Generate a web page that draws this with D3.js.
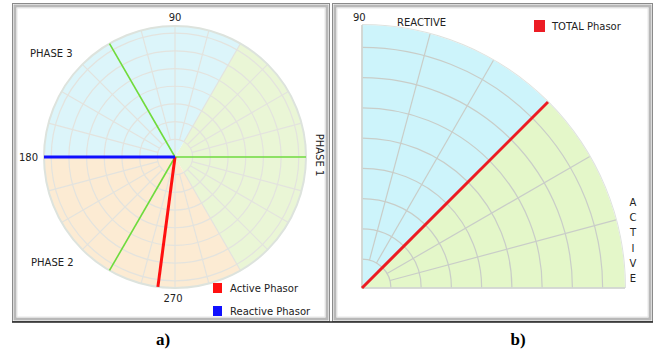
<!DOCTYPE html>
<html lang="en">
<head>
<meta charset="UTF-8">
<title>Phasor diagrams</title>
<script src="https://d3js.org/d3.v7.min.js"></script>
<style>
  body { margin: 0; background: #fff; }
  svg text { font-family: "DejaVu Sans", Verdana, sans-serif; font-size: 10px; fill: #222; }
  .cap { font-family: "Liberation Serif", "Times New Roman", serif; font-size: 17px; font-weight: bold; fill: #000; }
</style>
</head>
<body>
<div id="chart"></div>
<script>
// panel a: three phases, sectors and phasors
const phaseNames = ["PHASE 1", "PHASE 2", "PHASE 3"];
const phaseAngles = [0, 240, 120];            // degrees, counter-clockwise from east
const sectorsA = [
  {from: -60, to: 60, color: "#eaf6d6"},
  {from: 60, to: 180, color: "#dcf5fa"},
  {from: 180, to: 300, color: "#fcebd3"}
];
const phasorsA = [
  {name: "Active Phasor", angle: 262.5, mag: 1, color: "#ff1010"},
  {name: "Reactive Phasor", angle: 180, mag: 1, color: "#1010ff"}
];
const angleLabelsA = [90, 180, 270];
const ringsA = [0.135, 0.27, 0.405, 0.54, 0.675, 0.81, 0.945];

// panel b: total phasor in first quadrant
const sectorsB = [
  {from: 0, to: 45, color: "#e4f7c9"},
  {from: 45, to: 90, color: "#cdf4fb"}
];
const phasorsB = [{name: "TOTAL Phasor", angle: 45, mag: 1, color: "#ec1c24"}];
const ringsB = [0.11, 0.225, 0.34, 0.455, 0.57, 0.685, 0.8, 0.915];
const spokes = d3.range(0, 360, 15);

const W = 663, H = 354;
const svg = d3.select("#chart").append("svg").attr("width", W).attr("height", H);

function frame(x0, x1) {
  svg.append("rect").attr("x", x0 + 0.5).attr("y", 3.5).attr("width", x1 - x0 - 1).attr("height", 318)
    .attr("fill", "#fff").attr("stroke", "#8a8a8a");
  svg.append("rect").attr("x", x0 + 3).attr("y", 6).attr("width", x1 - x0 - 6).attr("height", 313)
    .attr("fill", "none").attr("stroke", "#b8b8b8").attr("stroke-width", 3);
  svg.append("rect").attr("x", x0 + 5).attr("y", 8).attr("width", x1 - x0 - 10).attr("height", 309)
    .attr("fill", "none").attr("stroke", "#e6e6e6").attr("stroke-width", 1);
}
frame(12, 330);
frame(332, 653);
svg.append("line").attr("x1", 12).attr("x2", 653).attr("y1", 322).attr("y2", 322)
  .attr("stroke", "#222").attr("stroke-width", 1.5);

const rad = d => d * Math.PI / 180;

function polar(g, cx, cy, R, opts) {
  const r = d3.scaleLinear().domain([0, 1]).range([0, R]);
  const pt = (ang, m) => [cx + r(m) * Math.cos(rad(ang)), cy - r(m) * Math.sin(rad(ang))];
  const arc = d3.arc().innerRadius(0);
  g.selectAll(".sector").data(opts.sectors).join("path")
    .attr("transform", `translate(${cx},${cy})`)
    .attr("d", d => arc({outerRadius: r(1), startAngle: rad(90 - d.to), endAngle: rad(90 - d.from)}))
    .attr("fill", d => d.color);
  // rings drawn only over the visible angular range
  g.selectAll(".ring").data(opts.rings).join("path")
    .attr("d", d => {
      const p = d3.path();
      p.arc(cx, cy, r(d), -rad(opts.amax), -rad(opts.amin), false);
      return p.toString();
    })
    .attr("fill", "none").attr("stroke", opts.grid).attr("stroke-width", 1.2);
  g.selectAll(".spoke").data(spokes.filter(a => a >= opts.amin && a <= opts.amax)).join("line")
    .attr("x1", a => pt(a, a % 90 === 0 ? 0 : opts.rings[0])[0])
    .attr("y1", a => pt(a, a % 90 === 0 ? 0 : opts.rings[0])[1])
    .attr("x2", a => pt(a, 1)[0]).attr("y2", a => pt(a, 1)[1])
    .attr("stroke", opts.grid).attr("stroke-width", 1.2);
  return {r, pt};
}

// ---------- panel a ----------
const gA = svg.append("g");
const A = polar(gA, 175, 157, 131, {sectors: sectorsA, rings: ringsA, grid: "#e3e3de", amin: 0, amax: 360});
gA.append("circle").attr("cx", 175).attr("cy", 157).attr("r", 131)
  .attr("fill", "none").attr("stroke", "#dde3dd").attr("stroke-width", 2);
gA.selectAll(".phase").data(phaseAngles).join("line")
  .attr("x1", 175).attr("y1", 157)
  .attr("x2", d => A.pt(d, 1)[0]).attr("y2", d => A.pt(d, 1)[1])
  .attr("stroke", "#6fdc3c").attr("stroke-width", 1.6);
gA.selectAll(".phasor").data(phasorsA).join("line")
  .attr("x1", 175).attr("y1", 157)
  .attr("x2", d => A.pt(d.angle, d.mag)[0]).attr("y2", d => A.pt(d.angle, d.mag)[1])
  .attr("stroke", d => d.color).attr("stroke-width", 3);

gA.append("text").attr("x", 175).attr("y", 21).attr("text-anchor", "middle").text(angleLabelsA[0]);
gA.append("text").attr("x", 38).attr("y", 161).attr("text-anchor", "end").text(angleLabelsA[1]);
gA.append("text").attr("x", 173).attr("y", 302).attr("text-anchor", "middle").text(angleLabelsA[2]);
gA.append("text").attr("x", 30).attr("y", 57).text(phaseNames[2]);
gA.append("text").attr("x", 31).attr("y", 266).text(phaseNames[1]);
gA.append("text").attr("transform", "translate(316,155) rotate(90)").attr("text-anchor", "middle").text(phaseNames[0]);

const legA = gA.selectAll(".leg").data(phasorsA).join("g")
  .attr("transform", (d, i) => `translate(213,${283 + i * 23})`);
legA.append("rect").attr("width", 9).attr("height", 10).attr("fill", d => d.color);
legA.append("text").attr("x", 17).attr("y", 9).text(d => d.name);

// ---------- panel b ----------
const gB = svg.append("g");
const B = polar(gB, 362, 288, 263, {sectors: sectorsB, rings: ringsB, grid: "#c9cdc8", amin: 0, amax: 90});
gB.append("path").attr("d", `M362,25 L362,288 L625,288`).attr("fill", "none")
  .attr("stroke", "#d2d6d2").attr("stroke-width", 1.5);
gB.append("path").attr("transform", "translate(362,288)")
  .attr("d", d3.arc()({innerRadius: 263, outerRadius: 264, startAngle: 0, endAngle: Math.PI / 2}))
  .attr("fill", "#dfe3df");
gB.selectAll(".phasor").data(phasorsB).join("line")
  .attr("x1", 362).attr("y1", 288)
  .attr("x2", d => B.pt(d.angle, d.mag)[0]).attr("y2", d => B.pt(d.angle, d.mag)[1])
  .attr("stroke", d => d.color).attr("stroke-width", 3);

gB.append("text").attr("x", 353).attr("y", 21).text("90");
gB.append("text").attr("x", 397).attr("y", 26).text("REACTIVE");
gB.append("text").attr("x", 633).attr("y", 206).attr("text-anchor", "middle")
  .selectAll("tspan").data("ACTIVE".split("")).join("tspan")
  .attr("x", 633).attr("dy", (d, i) => i ? 15.2 : 0).text(d => d);
const legB = gB.selectAll(".leg").data(phasorsB).join("g").attr("transform", "translate(534,20)");
legB.append("rect").attr("width", 11).attr("height", 12).attr("fill", d => d.color);
legB.append("text").attr("x", 18).attr("y", 10).text(d => d.name);

// captions
svg.append("text").attr("class", "cap").attr("x", 163).attr("y", 345).attr("text-anchor", "middle").text("a)");
svg.append("text").attr("class", "cap").attr("x", 518).attr("y", 345).attr("text-anchor", "middle").text("b)");
</script>
</body>
</html>
